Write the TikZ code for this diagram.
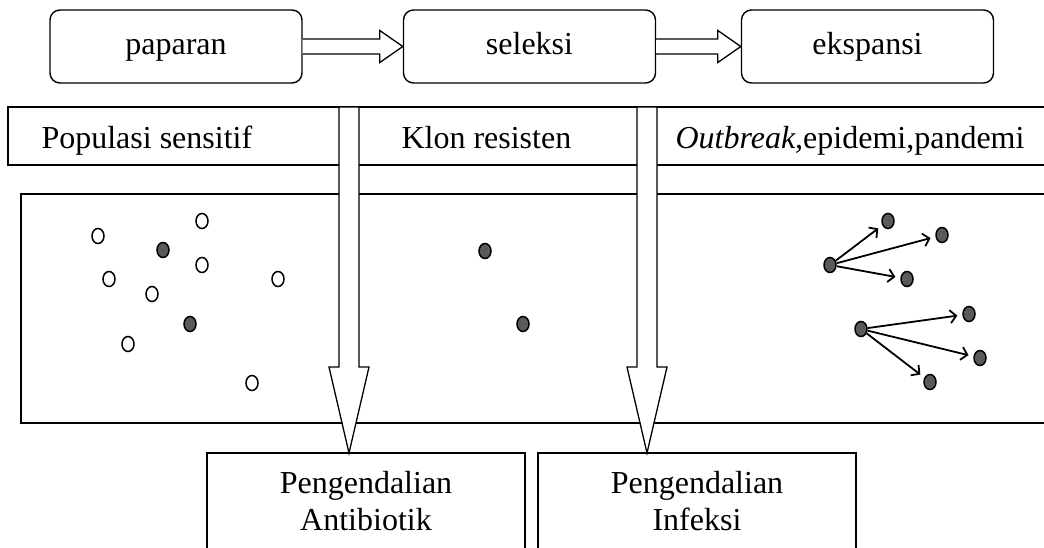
\documentclass[tikz,border=0pt]{standalone}
\usepackage{fontspec}
\setmainfont{Liberation Serif}
\usetikzlibrary{arrows.meta,calc,shapes.geometric}
\definecolor{dotgray}{HTML}{5A5A5A}
\begin{document}
\begin{tikzpicture}[x=1pt,y=-1pt,
  txt/.style={font=\fontsize{32}{37}\selectfont},
  stage/.style={draw,line width=1.4pt,rounded corners=10pt,minimum width=252pt,minimum height=73pt,inner sep=0pt,text height=22pt,text depth=7pt,txt},
  frame/.style={draw,line width=1.4pt},
  hollow/.style={draw,line width=1.3pt,fill=white,line join=miter},
  open/.style={ellipse,draw,line width=1.5pt,fill=white,minimum width=12pt,minimum height=15pt,inner sep=0pt},
  full/.style={open,fill=dotgray},
  spread/.style={line width=1.8pt,-{Straight Barb[length=6pt,width=13pt,line width=1.8pt]},shorten >=5pt}
]
\useasboundingbox (0,0) rectangle (1044,547);
\clip (0,0) rectangle (1044,547);

% top stages
\node[stage] (pap) at (176,46.5) {paparan};
\node[stage] (sel) at (529.5,46.5) {seleksi};
\node[stage] (eks) at (867.5,46.5) {ekspansi};

% header row and panel
\draw[frame] (8,107) rectangle (1060,165);
\node[txt,anchor=base west] (h1) at (38,148) {Populasi sensitif};
\node[txt,anchor=base west] (h2) at (398,148) {Klon resisten};
\node[txt,anchor=base west] (h3) at (672,148) {\textit{Outbreak,}epidemi,pandemi};
\draw[frame] (21,194) rectangle (1060,423);

% bottom boxes
\draw[frame] (207,453) rectangle (525,570);
\draw[frame] (538,453) rectangle (856,570);
\node[txt,anchor=base] (b1a) at (366,493) {Pengendalian};
\node[txt,anchor=base] (b1b) at (366,530) {Antibiotik};
\node[txt,anchor=base] (b2a) at (697,493) {Pengendalian};
\node[txt,anchor=base] (b2b) at (697,530) {Infeksi};
\coordinate (tip1) at (349,453);
\coordinate (tip2) at (647,453);

% horizontal hollow arrows
\foreach \a/\b in {pap/sel,sel/eks}{
  \draw[hollow] ($(\a.east)+(0,-7.5)$) -- ($(\b.west)+(-23,-7.5)$) -- ($(\b.west)+(-23,-16)$)
    -- (\b.west) -- ($(\b.west)+(-23,16)$) -- ($(\b.west)+(-23,7.5)$) -- ($(\a.east)+(0,7.5)$);
}

% vertical hollow arrows
\foreach \t in {tip1,tip2}{
  \draw[hollow] ($(\t)+(-10,-346)$) -- ($(\t)+(-10,-86)$) -- ($(\t)+(-20,-86)$) -- (\t)
    -- ($(\t)+(20,-86)$) -- ($(\t)+(10,-86)$) -- ($(\t)+(10,-346)$) -- cycle;
}

% sensitive population
\node[open] (o1) at (98,236) {};
\node[open] (o2) at (202,221) {};
\node[full] (f1) at (163,250) {};
\node[open] (o3) at (202,265) {};
\node[open] (o4) at (109,279) {};
\node[open] (o5) at (152,294) {};
\node[open] (o6) at (278,279) {};
\node[full] (f2) at (190,324) {};
\node[open] (o7) at (128,344) {};
\node[open] (o8) at (252,383) {};

% resistant clones
\node[full] (r1) at (485,251) {};
\node[full] (r2) at (523,324) {};

% outbreak
\node[full] (c1) at (830,265) {};
\node[full] (d1) at (888,221) {};
\node[full] (d2) at (942,235) {};
\node[full] (d3) at (907,279) {};
\node[full] (c2) at (861,329) {};
\node[full] (e1) at (969,314) {};
\node[full] (e2) at (980,358) {};
\node[full] (e3) at (930,382) {};
\foreach \s/\t in {c1/d1,c1/d2,c1/d3,c2/e1,c2/e2,c2/e3}{
  \draw[spread] (\s) -- (\t);
}
\end{tikzpicture}
\end{document}
